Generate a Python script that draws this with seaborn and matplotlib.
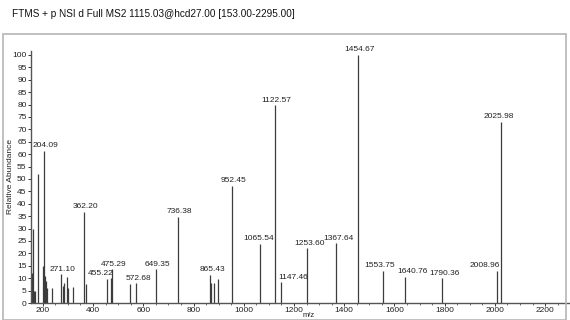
import matplotlib
matplotlib.use("Agg")
import matplotlib.pyplot as plt
import seaborn as sns
import pandas as pd
from matplotlib.patches import Rectangle

# ---- data ----
mz = [155, 158, 162, 165, 168, 181, 200, 204.09, 208, 213, 218, 235,
      271.10, 280, 286, 298.0, 302, 321, 362.20, 370,
      455.22, 470, 475.29, 549, 572.68, 649.35, 736.38,
      865.43, 870, 880, 898, 952.45, 1065.54, 1122.57, 1147.46,
      1253.60, 1367.64, 1454.67, 1553.75, 1640.76, 1790.36,
      2008.96, 2025.98]
intensity = [12, 5, 30, 5, 5, 52, 15, 61.3, 11, 9, 6, 6,
             11.5, 7, 8, 10.5, 6, 6.5, 36.8, 7.5,
             9.7, 10, 13.6, 7.6, 7.9, 13.7, 34.8,
             11.3, 8, 8, 9.6, 47.3, 23.8, 79.8, 8.3,
             22, 24, 100, 13, 10.6, 9.9,
             13, 73.1]
labels = ["204.09", "271.10", "362.20", "455.22", "475.29", "572.68",
          "649.35", "736.38", "865.43", "952.45", "1065.54", "1122.57",
          "1147.46", "1253.60", "1367.64", "1454.67", "1553.75",
          "1640.76", "1790.36", "2008.96", "2025.98"]
title = "FTMS + p NSI d Full MS2 1115.03@hcd27.00 [153.00-2295.00]"
xticks = [200, 400, 600, 800, 1000, 1200, 1400, 1600, 1800, 2000, 2200]
yticks = list(range(0, 101, 5))

# label horizontal nudges (pixels), style only
label_dx = {"455.22": -8, "1065.54": -4, "1147.46": 10, "1553.75": -5,
            "1640.76": 6, "2008.96": -14, "2025.98": -5}

df = pd.DataFrame({"mz": mz, "intensity": intensity})

sns.set_style("ticks")
plt.rcParams["font.family"] = ["Liberation Sans", "DejaVu Sans"]

fig = plt.figure(figsize=(5.7, 3.2), dpi=100)
ax = fig.add_axes([31/570, 17/320, 538/570, 252/320])

ax.vlines(df["mz"], 0, df["intensity"], color="#3c3c3c", lw=0.9)

for lab in labels:
    m = float(lab)
    idx = min(range(len(mz)), key=lambda i: abs(mz[i] - m))
    h = intensity[idx]
    ax.annotate(lab, xy=(m, h), xytext=(2 + label_dx.get(lab, 0), 1.5),
                textcoords="offset pixels", ha="center", va="bottom",
                fontsize=6, color="#222222", annotation_clip=False)

ax.set_xlim(153, 2295)
ax.set_ylim(0, 101.6)
ax.set_xticks(xticks)
ax.set_xticks(list(range(200, 2295, 50)), minor=True)
ax.set_yticks(yticks)
ax.tick_params(axis="both", which="major", labelsize=6, length=2.2, width=0.7,
               pad=1.0, colors="#333333", labelcolor="#222222")
ax.tick_params(axis="both", which="minor", length=1.5, width=0.6, colors="#555555")
sns.despine(ax=ax)
for s in ("left", "bottom"):
    ax.spines[s].set_color("#555555")
    ax.spines[s].set_linewidth(1.0)

ax.set_ylabel("")
ax.set_xlabel("")
fig.text(11/570, 1 - 177/320, "Relative Abundance", fontsize=6, rotation=90,
         ha="center", va="center", color="#222222")
fig.text(309/570, 1/320, "m/z", fontsize=5.5, ha="center", va="bottom",
         color="#222222")

fig.text(12/570, 1 - 14/320, title, fontsize=7.2, va="center", ha="left",
         color="#111111")
fig.patches.append(Rectangle((3/570, 0), 563/570, 286/320, transform=fig.transFigure,
                             fill=False, edgecolor="#b5b5b5", lw=1.2))

fig.savefig("out.png", dpi=100)
